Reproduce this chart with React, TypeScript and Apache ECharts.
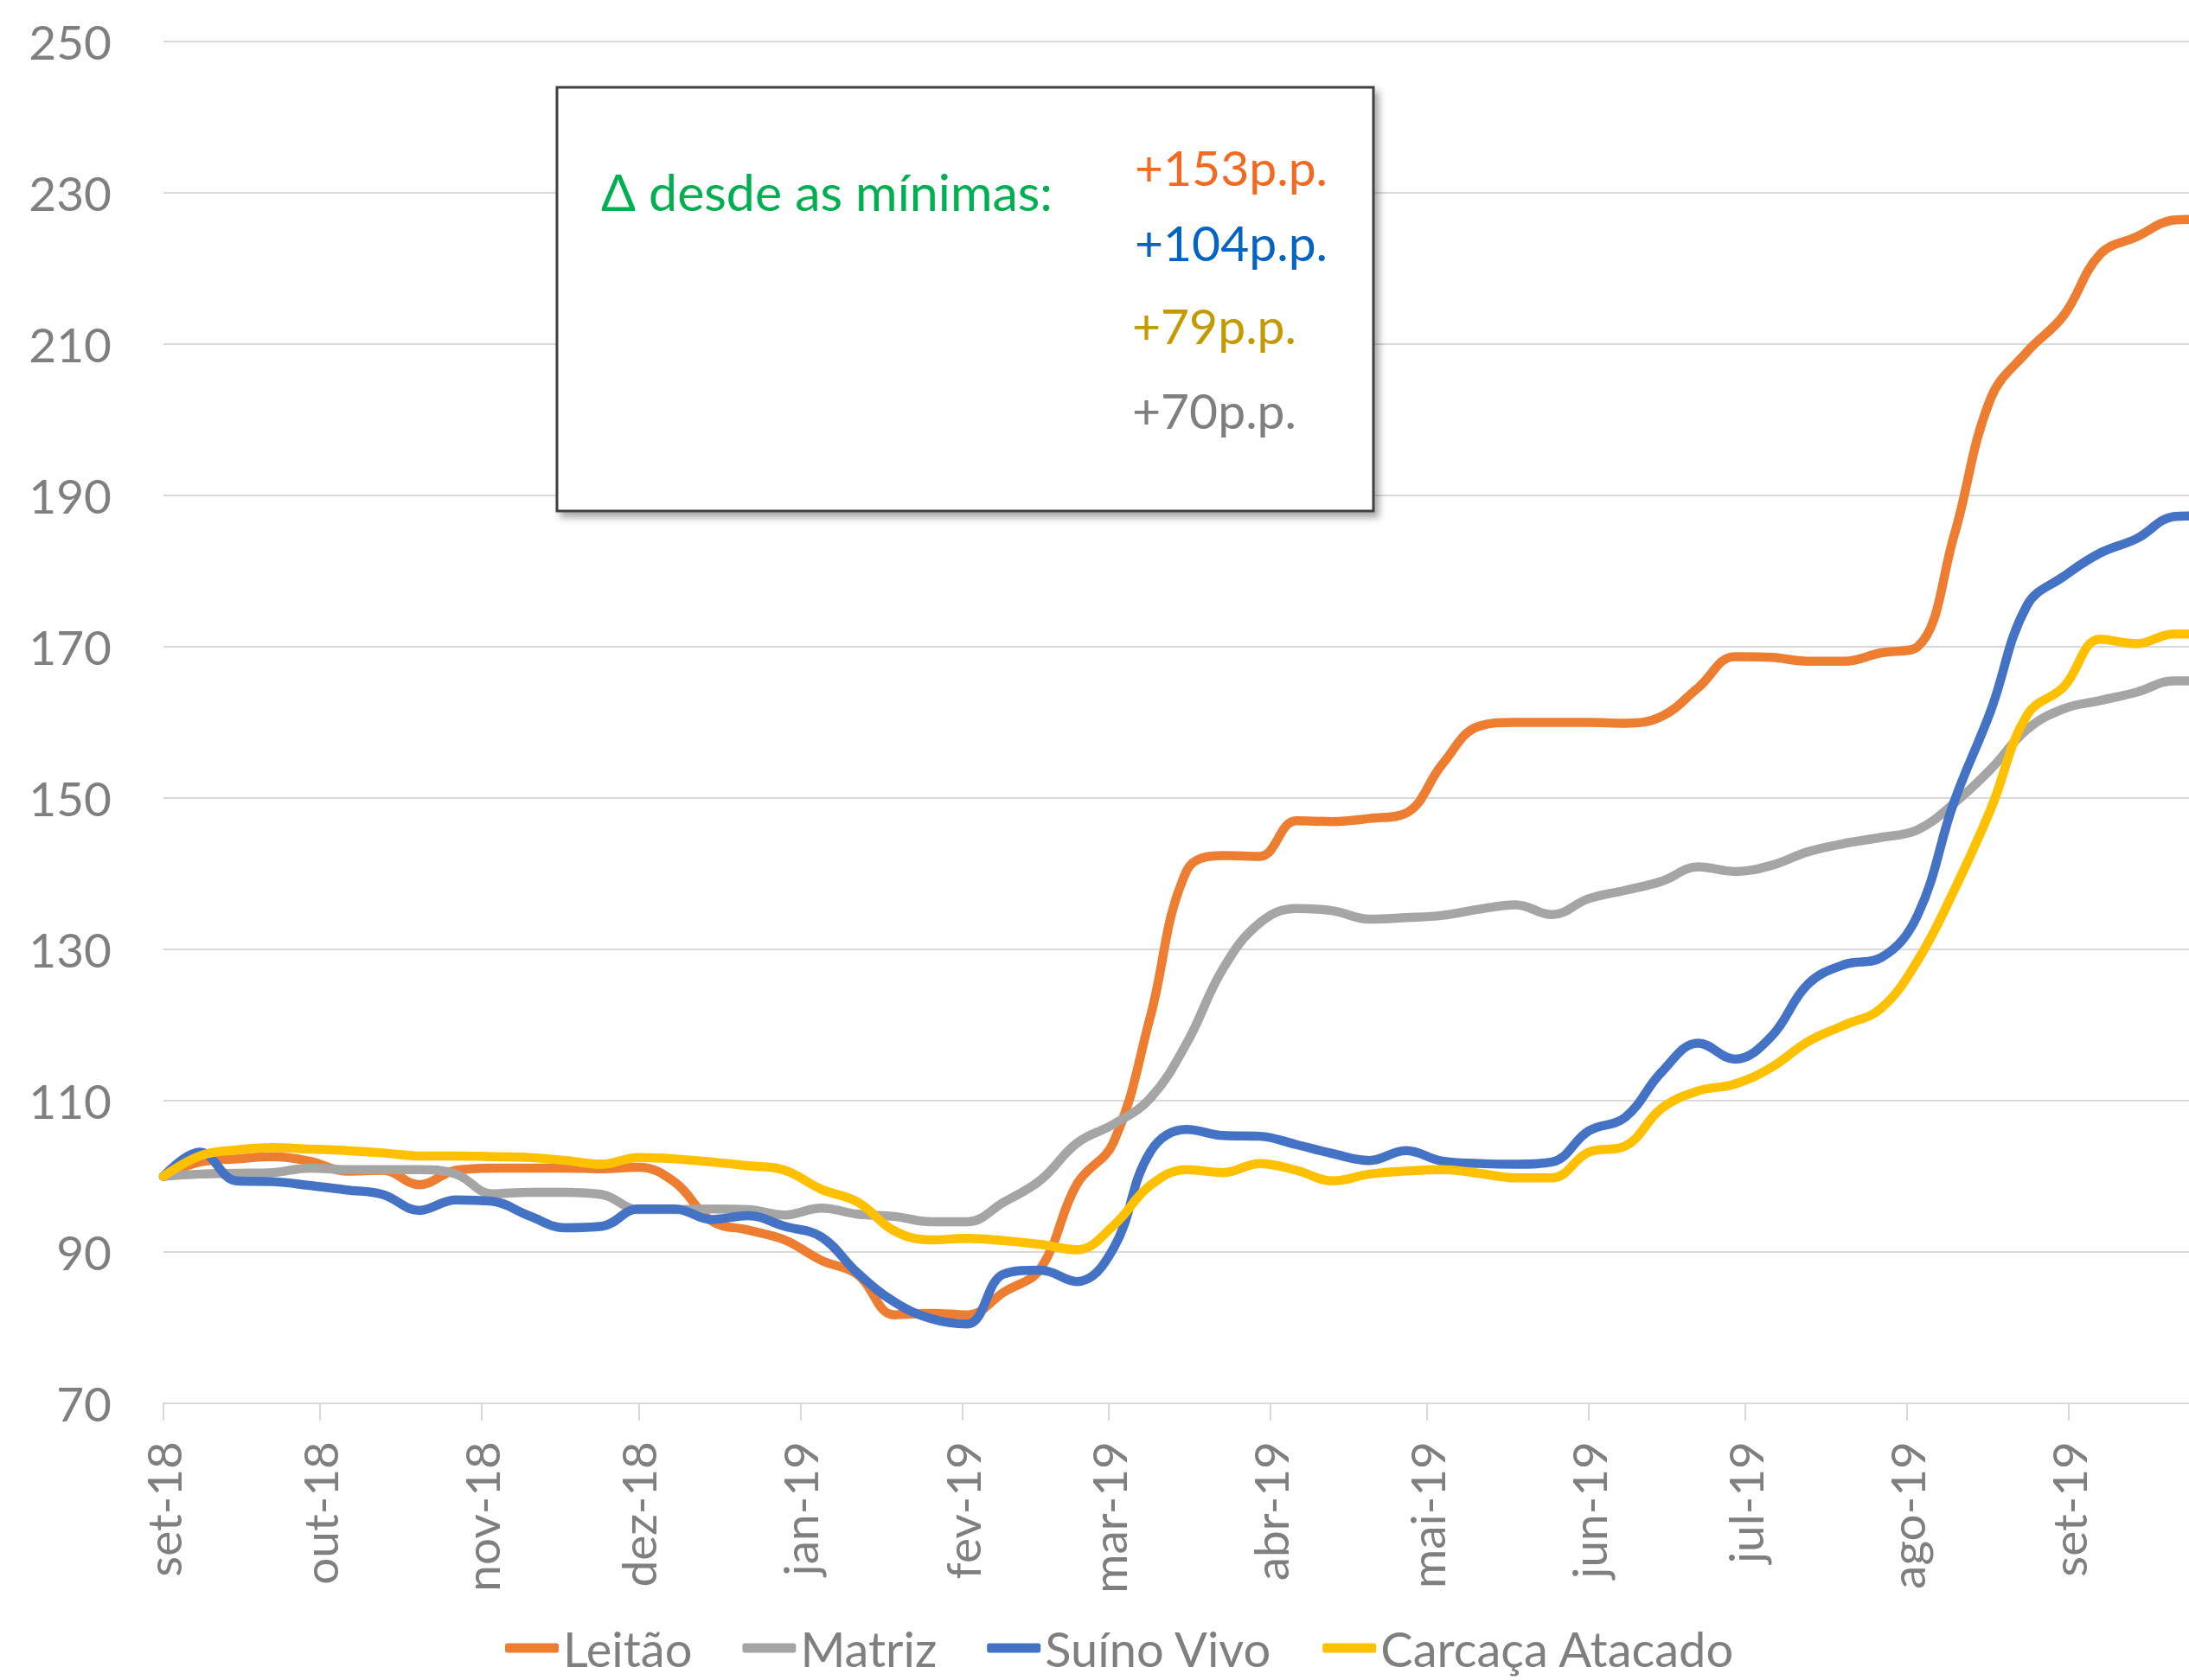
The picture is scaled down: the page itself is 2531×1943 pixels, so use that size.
import React, { useEffect, useRef } from "react";
import * as echarts from "echarts";

const dates = [
  "2018-09-01", "2018-09-08", "2018-09-15", "2018-09-22", "2018-09-29", "2018-10-06", "2018-10-13", "2018-10-20",
  "2018-10-27", "2018-11-03", "2018-11-10", "2018-11-17", "2018-11-24", "2018-12-01", "2018-12-08", "2018-12-15",
  "2018-12-22", "2018-12-29", "2019-01-05", "2019-01-12", "2019-01-19", "2019-01-26", "2019-02-02", "2019-02-09",
  "2019-02-16", "2019-02-23", "2019-03-02", "2019-03-09", "2019-03-16", "2019-03-23", "2019-03-30", "2019-04-06",
  "2019-04-13", "2019-04-20", "2019-04-27", "2019-05-04", "2019-05-11", "2019-05-18", "2019-05-25", "2019-06-01",
  "2019-06-08", "2019-06-15", "2019-06-22", "2019-06-29", "2019-07-06", "2019-07-13", "2019-07-20", "2019-07-27",
  "2019-08-03", "2019-08-10", "2019-08-17", "2019-08-24", "2019-08-31", "2019-09-07", "2019-09-14", "2019-09-21",
  "2019-09-24",
];

const leitao = [
  100, 101.9, 102.3, 102.6, 102.0, 100.7, 100.8, 98.9, 100.8, 101.1, 101.1, 101.1, 101.0, 101.2, 99.2, 94.1,
  92.9, 91.6, 88.9, 87.0, 81.7, 81.9, 81.7, 84.7, 87.8, 99.0, 104.5, 121.0, 140.4, 142.4, 142.3, 147.0,
  146.9, 147.3, 148.0, 154.5, 159.5, 160.0, 160.0, 160.0, 159.9, 160.8, 164.6, 168.7, 168.6, 168.1, 168.1, 169.2,
  170.0, 184.7, 202.8, 209.0, 213.8, 221.9, 224.2, 226.4, 226.5,
];
const matriz = [
  100, 100.3, 100.4, 100.5, 101.1, 100.9, 100.9, 100.9, 100.3, 97.7, 97.9, 97.9, 97.6, 95.6, 95.6, 95.7,
  95.6, 94.9, 95.8, 95.0, 94.7, 94.0, 94.0, 96.6, 99.5, 104.4, 106.9, 110.3, 117.6, 127.5, 133.5, 135.4,
  135.1, 134.0, 134.2, 134.5, 135.3, 135.9, 134.6, 136.7, 137.8, 139.0, 140.9, 140.3, 141.1, 142.9, 144.0, 144.8,
  145.8, 149.3, 153.8, 159.1, 161.8, 162.9, 164.0, 165.5, 165.5,
];
const suino = [
  100, 103.2, 99.4, 99.3, 98.8, 98.2, 97.6, 95.5, 96.9, 96.7, 94.8, 93.2, 93.4, 95.7, 95.7, 94.3,
  94.8, 93.4, 92.0, 87.2, 83.4, 81.2, 80.5, 87.1, 87.6, 86.1, 90.5, 103.2, 106.2, 105.4, 105.3, 104.2,
  103.0, 102.1, 103.4, 102.0, 101.7, 101.6, 101.9, 106.0, 107.8, 113.8, 117.6, 115.5, 118.5, 125.4, 128.0, 128.9,
  134.5, 149.5, 161.5, 175.5, 179.3, 182.4, 184.3, 187.2, 187.3,
];
const carcaca = [
  100, 102.7, 103.5, 103.8, 103.6, 103.4, 103.1, 102.7, 102.7, 102.6, 102.5, 102.1, 101.6, 102.5, 102.3, 101.9,
  101.4, 100.8, 98.3, 96.6, 92.8, 91.6, 91.8, 91.5, 91.0, 90.3, 93.5, 98.8, 100.9, 100.5, 101.7, 100.8,
  99.4, 100.3, 100.7, 100.9, 100.4, 99.8, 99.8, 103.2, 104.0, 109.0, 111.3, 112.2, 114.4, 117.8, 120.0, 122.2,
  128.5, 137.8, 148.5, 161.0, 164.7, 171.0, 170.4, 171.7, 171.7,
];

const seriesNames = ["Leitão", "Matriz", "Suíno Vivo", "Carcaça Atacado"];
const seriesColors = ["#ED7D31", "#A5A5A5", "#4472C4", "#FFC000"];

const monthTicks = [
  "2018-09-01", "2018-10-01", "2018-11-01", "2018-12-01", "2019-01-01", "2019-02-01", "2019-03-01",
  "2019-04-01", "2019-05-01", "2019-06-01", "2019-07-01", "2019-08-01", "2019-09-01",
];
const monthLabels = [
  "set-18", "out-18", "nov-18", "dez-18", "jan-19", "fev-19", "mar-19",
  "abr-19", "mai-19", "jun-19", "jul-19", "ago-19", "set-19",
];
const xStart = "2018-09-01";
const xEnd = "2019-09-24";
const yMin = 70;
const yMax = 250;
const yStep = 20;

const boxTitle = "Δ desde as mínimas:";
const boxValues = ["+153p.p.", "+104p.p.", "+79p.p.", "+70p.p."];
const boxColors = ["#F26A22", "#0563C1", "#C49A00", "#7F7F7F"];

const FONT = "Lato";
const GRAY = "#7F7F7F";
const DAY = 86400000;

function ts(s: string): number {
  const [y, m, d] = s.split("-").map(Number);
  return Date.UTC(y, m - 1, d);
}

export default function App() {
  const ref = useRef<HTMLDivElement>(null);

  useEffect(() => {
    if (!ref.current) return;
    const chart = echarts.init(ref.current, null, { renderer: "svg" });
    const tickTs = monthTicks.map(ts);
    const seriesData = [leitao, matriz, suino, carcaca];

    const boxRows = [193, 280, 376, 474];
    const boxX = [1312, 1312, 1309, 1309];

    const option: any = {
      animation: false,
      backgroundColor: "#ffffff",
      grid: { left: 189, right: 0, top: 48, bottom: 320, containLabel: false },
      xAxis: {
        type: "value",
        min: ts(xStart),
        max: ts(xEnd),
        axisLine: { show: true, lineStyle: { color: "#D9D9D9", width: 2 } },
        axisTick: {
          show: true,
          length: 20,
          customValues: tickTs,
          lineStyle: { color: "#D9D9D9", width: 2 },
        },
        axisLabel: {
          customValues: tickTs,
          rotate: 90,
          margin: 44,
          color: GRAY,
          fontFamily: FONT,
          fontSize: 55,
          formatter: (v: number) => {
            const i = tickTs.findIndex((t) => Math.abs(t - v) < DAY / 2);
            return i >= 0 ? monthLabels[i] : "";
          },
        },
        splitLine: { show: false },
      },
      yAxis: {
        type: "value",
        min: yMin,
        max: yMax,
        interval: yStep,
        axisLine: { show: false },
        axisTick: { show: false },
        axisLabel: { margin: 60, color: GRAY, fontFamily: FONT, fontSize: 55 },
        splitLine: { lineStyle: { color: "#D9D9D9", width: 2 } },
      },
      legend: {
        data: seriesNames,
        left: 584,
        top: 1878,
        padding: 0,
        icon: "roundRect",
        itemWidth: 62,
        itemHeight: 11,
        itemGap: 58,
        textStyle: { color: GRAY, fontFamily: FONT, fontSize: 56, lineHeight: 56 },
      },
      series: seriesNames.map((name, k) => ({
        name,
        type: "line",
        data: dates.map((d, i) => [ts(d), seriesData[k][i]]),
        smooth: 0.4,
        showSymbol: false,
        symbol: "none",
        color: seriesColors[k],
        lineStyle: { width: 10.5, color: seriesColors[k], cap: "round", join: "round" },
      })),
      graphic: [
        {
          type: "rect",
          z: 100,
          shape: { x: 644, y: 101, width: 944, height: 490 },
          style: {
            fill: "#ffffff",
            stroke: "#404040",
            lineWidth: 3,
            shadowBlur: 8,
            shadowOffsetX: 5,
            shadowOffsetY: 6,
            shadowColor: "rgba(0,0,0,0.35)",
          },
        },
        {
          type: "text",
          z: 101,
          x: 695,
          y: 221,
          style: {
            text: boxTitle,
            fill: "#00B050",
            font: `59px ${FONT}`,
            verticalAlign: "middle",
            align: "left",
          },
        },
        ...boxValues.map((t, i) => ({
          type: "text",
          z: 101,
          x: boxX[i],
          y: boxRows[i],
          style: {
            text: t,
            fill: boxColors[i],
            font: `57px ${FONT}`,
            verticalAlign: "middle",
            align: "left",
          },
        })),
      ],
    };
    chart.setOption(option);
    return () => chart.dispose();
  }, []);

  return (
    <div
      ref={ref}
      style={{ position: "fixed", left: 0, top: 0, width: 2531, height: 1943, background: "#fff" }}
    />
  );
}
